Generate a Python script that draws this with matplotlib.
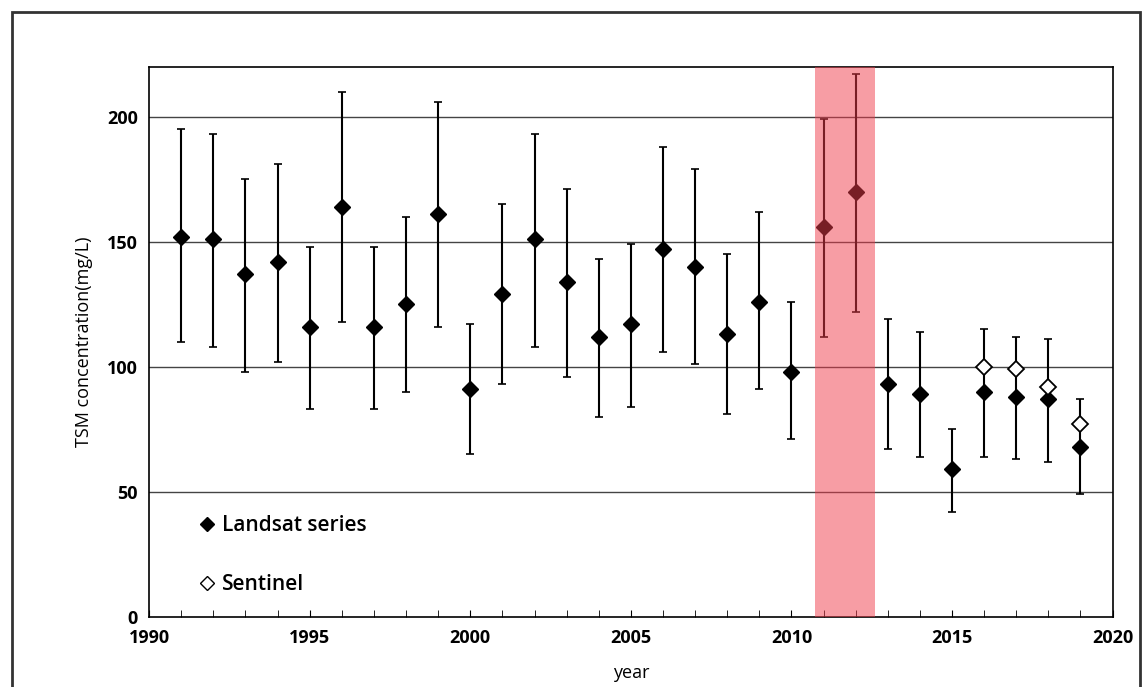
import matplotlib
matplotlib.use('Agg')
import matplotlib.pyplot as plt
from matplotlib.patches import Rectangle
from matplotlib.lines import Line2D
from matplotlib.ticker import MultipleLocator

## dados ##
anos = list(range(1991, 2020))
landsat = [152, 151, 137, 142, 116, 164, 116, 125, 161, 91,
           129, 151, 134, 112, 117, 147, 140, 113, 126, 98,
           156, 170, 93, 89, 59, 90, 88, 87, 68]
superior = [195, 193, 175, 181, 148, 210, 148, 160, 206, 117,
            165, 193, 171, 143, 149, 188, 179, 145, 162, 126,
            199, 217, 119, 114, 75, 115, 112, 111, 87]
inferior = [110, 108, 98, 102, 83, 118, 83, 90, 116, 65,
            93, 108, 96, 80, 84, 106, 101, 81, 91, 71,
            112, 122, 67, 64, 42, 64, 63, 62, 49]
anos_sentinel = [2016, 2017, 2018, 2019]
sentinel = [100, 99, 92, 77]
faixa = [2010.72, 2012.6]

plt.rcParams['font.family'] = ['Open Sans', 'DejaVu Sans']

fig = plt.figure(figsize=(11.47, 6.87), dpi=100)
ax = fig.add_axes([0.130, 0.102, 0.840, 0.8005])

## moldura externa ##
fig.patches.append(Rectangle((12/1147, -0.05), 1128/1147, 1.05 - 12/687,
                             transform=fig.transFigure, fill=False,
                             edgecolor='#333333', linewidth=2))

for v in [50, 100, 150, 200]:
    ax.axhline(v, color='#444444', linewidth=1, zorder=1)

erro_baixo = [l - i for l, i in zip(landsat, inferior)]
erro_cima = [s - l for s, l in zip(superior, landsat)]
ax.errorbar(anos, landsat, yerr=[erro_baixo, erro_cima], fmt='D', color='black',
            markersize=8, elinewidth=1.5, capsize=3, capthick=1.2, zorder=3)
ax.plot(anos_sentinel, sentinel, 'D', markerfacecolor='white', markeredgecolor='black',
        markersize=8, markeredgewidth=1.3, zorder=4)

ax.axvspan(faixa[0], faixa[1], color='#f03c4b', alpha=0.5, linewidth=0, zorder=5)

ax.set_xlim(1990, 2020)
ax.set_ylim(0, 220)
ax.set_yticks([0, 50, 100, 150, 200])
ax.xaxis.set_major_locator(MultipleLocator(5))
ax.xaxis.set_minor_locator(MultipleLocator(1))
ax.tick_params(axis='x', which='both', direction='in', length=5, pad=9)
ax.tick_params(axis='y', length=0, pad=8)
for lab in ax.get_xticklabels() + ax.get_yticklabels():
    lab.set_fontsize(13)
    lab.set_fontweight('bold')
for s in ax.spines.values():
    s.set_linewidth(1.2)

ax.set_ylabel('TSM concentration(mg/L)', fontsize=13, labelpad=10)
ax.set_xlabel('year', fontsize=13, labelpad=12)

handles = [Line2D([], [], linestyle='none', marker='D', color='black', markersize=7),
           Line2D([], [], linestyle='none', marker='D', markerfacecolor='white',
                  markeredgecolor='black', markersize=7)]
ax.legend(handles, ['Landsat series', 'Sentinel'], loc='lower left',
          bbox_to_anchor=(0.03, 0.006), frameon=False, handletextpad=0.2,
          handlelength=1, labelspacing=1.8, prop={'size': 15, 'weight': 'semibold'})

fig.savefig('out.png', dpi=100)
